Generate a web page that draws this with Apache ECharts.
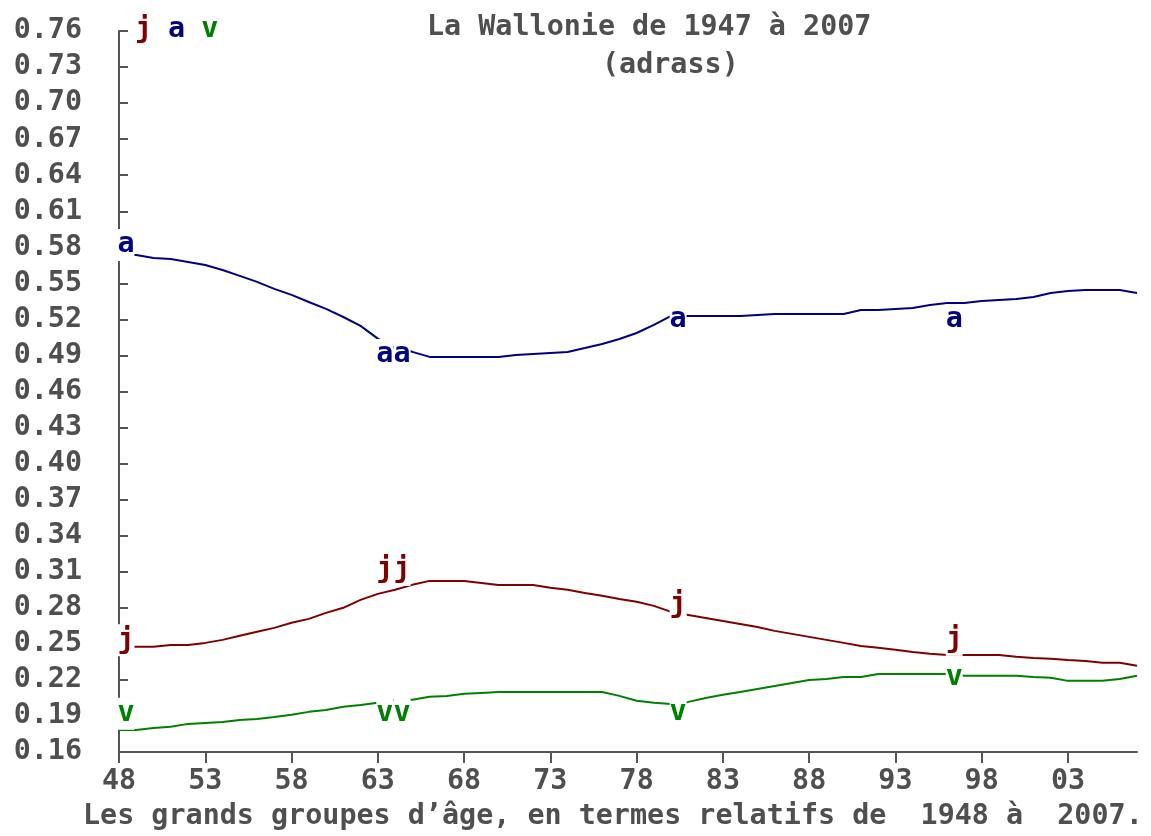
<!DOCTYPE html>
<html><head><meta charset="utf-8">
<script src="https://cdn.jsdelivr.net/npm/echarts@6/dist/echarts.min.js"></script>
<style>html,body{margin:0;padding:0;background:#fff}#c{width:1151px;height:836px}</style>
</head><body><div id="c"></div>
<script>
const years = [1948,1949,1950,1951,1952,1953,1954,1955,1956,1957,1958,1959,1960,1961,1962,1963,1964,1965,1966,1967,1968,1969,1970,1971,1972,1973,1974,1975,1976,1977,1978,1979,1980,1981,1982,1983,1984,1985,1986,1987,1988,1989,1990,1991,1992,1993,1994,1995,1996,1997,1998,1999,2000,2001,2002,2003,2004,2005,2006,2007];
// j = jeunes, a = adultes, v = vieux
const jeunes = [0.2475,0.2475,0.2475,0.2490,0.2490,0.2508,0.2533,0.2567,0.2600,0.2633,0.2675,0.2708,0.2758,0.2800,0.2866,0.2916,0.2950,0.2991,0.3024,0.3024,0.3024,0.3007,0.2990,0.2990,0.2990,0.2966,0.2950,0.2924,0.2900,0.2874,0.2850,0.2816,0.2766,0.2741,0.2716,0.2691,0.2666,0.2641,0.2608,0.2583,0.2558,0.2533,0.2508,0.2483,0.2467,0.2450,0.2433,0.2417,0.2408,0.2408,0.2408,0.2408,0.2392,0.2383,0.2375,0.2366,0.2358,0.2342,0.2342,0.2317];
const adultes = [0.5736,0.5736,0.5711,0.5703,0.5678,0.5653,0.5611,0.5562,0.5512,0.5454,0.5404,0.5345,0.5287,0.5220,0.5146,0.5040,0.4960,0.4930,0.4888,0.4888,0.4888,0.4888,0.4888,0.4904,0.4913,0.4921,0.4929,0.4962,0.4996,0.5037,0.5087,0.5154,0.5229,0.5229,0.5229,0.5229,0.5229,0.5237,0.5245,0.5245,0.5245,0.5245,0.5245,0.5279,0.5279,0.5287,0.5295,0.5320,0.5337,0.5337,0.5354,0.5362,0.5370,0.5387,0.5420,0.5437,0.5445,0.5445,0.5445,0.5420];
const vieux = [0.1784,0.1784,0.1800,0.1810,0.1834,0.1842,0.1850,0.1867,0.1875,0.1892,0.1910,0.1934,0.1950,0.1976,0.1992,0.2010,0.2034,0.2034,0.2059,0.2067,0.2084,0.2092,0.2100,0.2100,0.2100,0.2100,0.2100,0.2100,0.2100,0.2067,0.2026,0.2009,0.2000,0.2017,0.2050,0.2076,0.2100,0.2125,0.2150,0.2175,0.2200,0.2208,0.2225,0.2225,0.2250,0.2250,0.2250,0.2250,0.2250,0.2234,0.2234,0.2234,0.2234,0.2225,0.2217,0.2192,0.2192,0.2192,0.2208,0.2234];

const markerYears = [1948,1963,1964,1980,1996];
const markerJ = [0.2530,0.3115,0.3115,0.2824,0.2533];
const markerA = [0.5819,0.4904,0.4904,0.5195,0.5195];
const markerV = [0.1918,0.1918,0.1918,0.1926,0.2217];

const yTicks = [0.16,0.19,0.22,0.25,0.28,0.31,0.34,0.37,0.40,0.43,0.46,0.49,0.52,0.55,0.58,0.61,0.64,0.67,0.70,0.73,0.76];
const xTicks = [1948,1953,1958,1963,1968,1973,1978,1983,1988,1993,1998,2003];
const xTickLabels = ['48','53','58','63','68','73','78','83','88','93','98','03'];

const titleText = 'La Wallonie de 1947 à 2007';
const subtitleText = '(adrass)';
const xAxisTitle = 'Les grands groupes d’âge, en termes relatifs de  1948 à  2007.';

const FONT = '"DejaVu Sans Mono", "Liberation Mono", monospace';
const FS = 28.4;
const GREY = '#4f4f4f';
const AXIS = '#555555';
const C_J = '#800000', C_A = '#000080', C_V = '#008000';

const pairs = arr => years.map((y, i) => [y, arr[i]]);
const mpairs = arr => markerYears.map((y, i) => [y, arr[i]]);

function lineSeries(name, data, color) {
  return {
    name, type: 'line', data: pairs(data), showSymbol: false, symbol: 'none',
    lineStyle: { color, width: 2 }, itemStyle: { color }, z: 2, silent: true,
    emphasis: { disabled: true }
  };
}
function markerSeries(name, data, color) {
  return {
    name, type: 'scatter', data: mpairs(data), symbol: 'rect', symbolSize: [17, 32],
    symbolOffset: [7, 0], itemStyle: { color: '#fff', opacity: 1 }, z: 5, silent: true,
    emphasis: { disabled: true },
    label: { show: true, position: 'inside', formatter: name, color, opacity: 1,
      fontFamily: FONT, fontSize: FS, fontWeight: 'bold' }
  };
}

const chart = echarts.init(document.getElementById('c'), null, { renderer: 'canvas' });
chart.setOption({
  animation: false,
  backgroundColor: '#fff',
  title: [
    { text: titleText, left: 427, top: 13, padding: 0,
      textStyle: { fontFamily: FONT, fontSize: FS, fontWeight: 'bold', color: GREY, lineHeight: 30 } },
    { text: subtitleText, left: 602, top: 51, padding: 0,
      textStyle: { fontFamily: FONT, fontSize: FS, fontWeight: 'bold', color: GREY, lineHeight: 30 } },
    { text: xAxisTitle, left: 83, top: 802, padding: 0,
      textStyle: { fontFamily: FONT, fontSize: FS, fontWeight: 'bold', color: GREY, lineHeight: 30 } }
  ],
  legend: {
    left: 130, top: 15, padding: 0, icon: 'none', itemWidth: 0, itemHeight: 30, itemGap: 11,
    selectedMode: false,
    textStyle: { fontFamily: FONT, fontSize: FS, fontWeight: 'bold' },
    data: [
      { name: 'j', textStyle: { color: C_J } },
      { name: 'a', textStyle: { color: C_A } },
      { name: 'v', textStyle: { color: C_V } }
    ]
  },
  grid: { left: 119, right: 14, top: 31, bottom: 84, containLabel: false },
  xAxis: {
    type: 'value', min: 1948, max: 2007,
    axisLine: { lineStyle: { color: AXIS, width: 2 } },
    axisTick: { customValues: xTicks, length: 11, inside: false, lineStyle: { color: AXIS, width: 2 } },
    axisLabel: { customValues: xTicks, margin: 16,
      formatter: v => xTickLabels[xTicks.indexOf(v)],
      fontFamily: FONT, fontSize: FS, fontWeight: 'bold', color: GREY },
    splitLine: { show: false }
  },
  yAxis: {
    type: 'value', min: 0.16, max: 0.76,
    axisLine: { show: true, lineStyle: { color: AXIS, width: 2 } },
    axisTick: { show: true, customValues: yTicks, length: 9, inside: true, lineStyle: { color: AXIS, width: 2 } },
    axisLabel: { customValues: yTicks, margin: 37, formatter: v => v.toFixed(2),
      fontFamily: FONT, fontSize: FS, fontWeight: 'bold', color: GREY },
    splitLine: { show: false }
  },
  series: [
    lineSeries('j', jeunes, C_J),
    lineSeries('a', adultes, C_A),
    lineSeries('v', vieux, C_V),
    markerSeries('j', markerJ, C_J),
    markerSeries('a', markerA, C_A),
    markerSeries('v', markerV, C_V)
  ]
});
</script></body></html>
